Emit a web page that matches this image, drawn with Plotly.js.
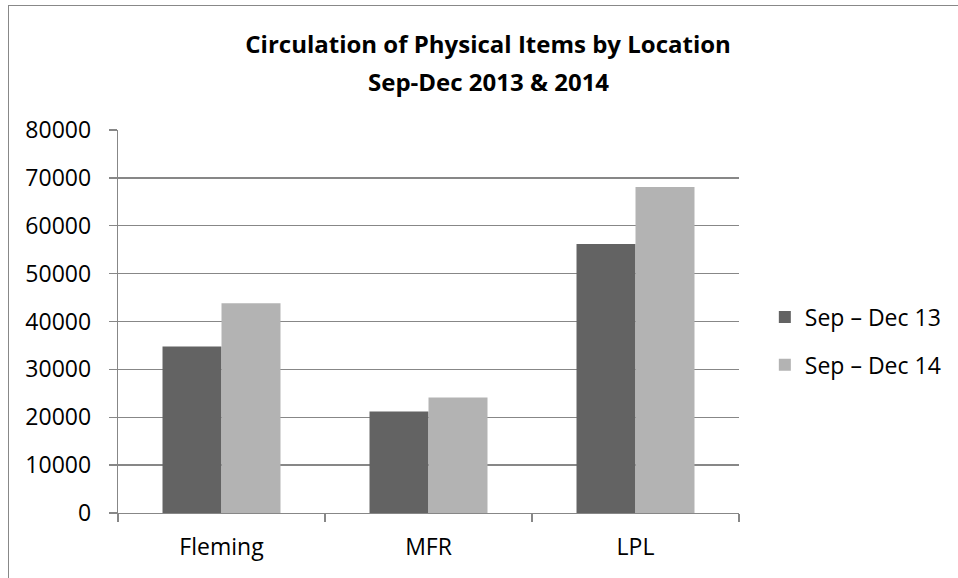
<!DOCTYPE html>
<html>
<head>
<meta charset="utf-8">
<script src="https://cdn.plot.ly/plotly-3.0.1.min.js"></script>
<style>
  html, body { margin: 0; padding: 0; overflow: hidden; background: #fff; }
  #wrap { position: relative; width: 958px; height: 578px; }
  #chart { position: absolute; left: 0; top: 0; width: 958px; height: 578px; }
  #frame { position: absolute; left: 8px; top: 5px; width: 1000px; height: 700px;
           border: 1.5px solid #888888; pointer-events: none; }
</style>
</head>
<body>
<div id="wrap">
  <div id="chart"></div>
  <div id="frame"></div>
</div>
<script>
const categories = ["Fleming", "MFR", "LPL"];
const seriesNames = ["Sep \u2013 Dec 13", "Sep \u2013 Dec 14"];
const sepDec13 = [34800, 21200, 56200];
const sepDec14 = [43800, 24100, 68100];
const yTicks = [0, 10000, 20000, 30000, 40000, 50000, 60000, 70000, 80000];
const yTickLabels = ["0", "10000", "20000", "30000", "40000", "50000", "60000", "70000", "80000"];
const titleLine1 = "Circulation of Physical Items by Location";
const titleLine2 = "Sep-Dec 2013 & 2014";

const font = "Open Sans, Noto Sans, Liberation Sans, sans-serif";
const grid = "#878787";
const fs = 23;

const traces = [
  { type: "bar", name: seriesNames[0], x: categories, y: sepDec13,
    marker: { color: "#636363" }, legendgroup: "a", hoverinfo: "x+y+name" },
  { type: "bar", name: seriesNames[1], x: categories, y: sepDec14,
    marker: { color: "#b3b3b3" }, legendgroup: "b", hoverinfo: "x+y+name" }
];

const layout = {
  width: 958, height: 578,
  margin: { l: 118, r: 219, t: 130, b: 65, pad: 0 },
  paper_bgcolor: "#ffffff", plot_bgcolor: "#ffffff",
  font: { family: font, size: fs, color: "#000000" },
  title: {
    text: "<b>" + titleLine1 + "</b>",
    font: { family: font, size: 24, color: "#000000" },
    xref: "paper", x: 0.596, xanchor: "center",
    yref: "container", y: 0.9228, yanchor: "middle"
  },
  annotations: [{
    text: "<b>" + titleLine2 + "</b>",
    font: { family: font, size: 24, color: "#000000" },
    xref: "paper", x: 0.596, xanchor: "center",
    yref: "paper", y: 1.1264, yanchor: "middle",
    showarrow: false
  }],
  barmode: "group", bargap: 0.43, bargroupgap: 0,
  xaxis: {
    type: "category",
    showline: true, linecolor: grid, linewidth: 1.3,
    ticks: "outside", tickson: "boundaries", ticklen: 8, tickcolor: grid, tickwidth: 1.3,
    showgrid: false, zeroline: false,
    tickfont: { family: font, size: fs, color: "#000000" },
    ticklabelstandoff: 13
  },
  yaxis: {
    range: [0, 80000], tickvals: yTicks, ticktext: yTickLabels,
    showline: true, linecolor: grid, linewidth: 1.3,
    ticks: "outside", ticklen: 8, tickcolor: grid, tickwidth: 1.3,
    showgrid: true, gridcolor: grid, gridwidth: 1.3,
    zeroline: false,
    tickfont: { family: font, size: fs, color: "#000000" },
    ticklabelstandoff: 13
  },
  showlegend: true,
  legend: {
    x: 1.0416, xanchor: "left", y: 0.568, yanchor: "top",
    traceorder: "grouped", tracegroupgap: 15,
    font: { family: font, size: fs, color: "#000000" },
    bgcolor: "rgba(0,0,0,0)", borderwidth: 0
  }
};

Plotly.newPlot("chart", traces, layout, { displayModeBar: false, staticPlot: true });
</script>
</body>
</html>
